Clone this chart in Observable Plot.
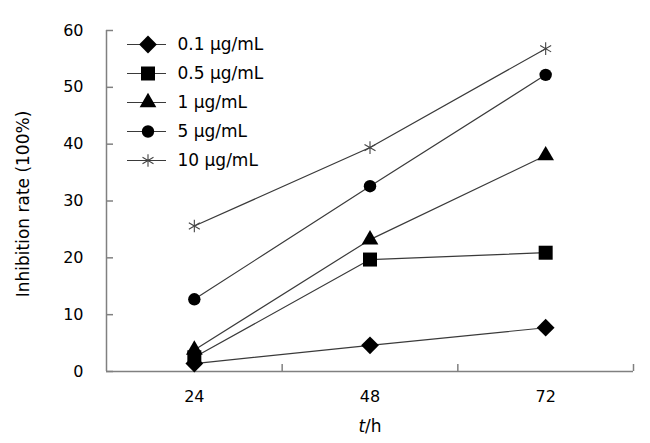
<!DOCTYPE html>
<html><head><meta charset="utf-8">
<script src="https://cdn.jsdelivr.net/npm/d3@7"></script>
<script src="https://cdn.jsdelivr.net/npm/@observablehq/plot@0.6"></script>
<style>
html,body{margin:0;padding:0;background:#fff;}
#chart{position:relative;width:650px;height:443px;overflow:hidden;}
#chart svg{position:absolute;left:0;top:0;}
#chart svg.legend{left:106px;top:30px;background:transparent;}
</style></head><body><div id="chart"></div>
<script>
const hours = [24, 48, 72];
const seriesNames = ["0.1 μg/mL", "0.5 μg/mL", "1 μg/mL", "5 μg/mL", "10 μg/mL"];
const seriesSymbols = ["diamond2", "square", "triangle", "circle", "asterisk"];
const rate01 = [1.4, 4.6, 7.7];
const rate05 = [2.5, 19.7, 20.9];
const rate1 = [3.8, 23.2, 38.0];
const rate5 = [12.7, 32.6, 52.2];
const rate10 = [25.6, 39.4, 56.8];
const yTicks = [0, 10, 20, 30, 40, 50, 60];
const xLabelTicks = [24, 48, 72];
const xBoundaryTicks = [36, 60, 84];
const xDomain = [12, 84];
const yDomain = [0, 60];
const yTitle = "Inhibition rate (100%)";
const xTitle = "t/h";

const rates = [rate01, rate05, rate1, rate5, rate10];
const symbolRadius = {diamond2: 8, square: 7.9, triangle: 6.2, circle: 6.2, asterisk: 6};
const data = seriesNames.flatMap((name, s) =>
  hours.map((h, i) => ({series: name, symbol: seriesSymbols[s], hour: h, rate: rates[s][i]})));

const font = "'DejaVu Sans', Verdana, sans-serif";
const axisColor = "#808080";
const lineColor = "#3a3a3a";

function symbolMarks(rows, xOpt, yOpt, extra = {}) {
  return seriesSymbols.map(sym => {
    const subset = rows.filter(d => d.symbol === sym);
    const isStroke = sym === "asterisk";
    return Plot.dot(subset, {
      ...xOpt, ...yOpt, ...extra,
      symbol: sym,
      r: symbolRadius[sym],
      fill: isStroke ? "none" : "black",
      stroke: isStroke ? "#444" : "none",
      strokeWidth: isStroke ? 1.1 : 0
    });
  });
}

const main = Plot.plot({
  width: 650, height: 443,
  marginLeft: 106, marginRight: 17, marginTop: 30, marginBottom: 72,
  style: {fontFamily: font, fontSize: "16px", color: "#000", background: "white", overflow: "visible"},
  x: {domain: xDomain},
  y: {domain: yDomain},
  marks: [
    Plot.ruleY([yDomain[0]], {stroke: axisColor, strokeWidth: 1.5}),
    Plot.ruleX([xDomain[0]], {stroke: axisColor, strokeWidth: 1.5}),
    Plot.axisY({ticks: yTicks, tickSize: -7, tickFormat: () => "", label: null, stroke: axisColor, strokeWidth: 1.5}),
    Plot.axisY({ticks: yTicks, tickSize: 0, tickPadding: 23, label: null, fill: "#000"}),
    Plot.axisX({ticks: xBoundaryTicks, tickSize: -7, tickFormat: () => "", label: null, stroke: axisColor, strokeWidth: 1.5}),
    Plot.axisX({ticks: xLabelTicks, tickSize: 0, tickPadding: 19, label: null, fill: "#000"}),
    Plot.line(data, {x: "hour", y: "rate", z: "series", stroke: lineColor, strokeWidth: 1.2}),
    ...symbolMarks(data, {x: "hour"}, {y: "rate"}),
    Plot.text([yTitle], {frameAnchor: "left", textAnchor: "middle", lineAnchor: "middle", rotate: -90, dx: -83, dy: 3, fontSize: 17, fill: "#000"}),
    Plot.text([xTitle], {frameAnchor: "bottom", textAnchor: "middle", lineAnchor: "middle", dy: 55, fontSize: 17, fill: "#000"})
  ]
});

d3.select(main).selectAll("text").filter(function() { return this.textContent === xTitle; })
  .each(function() {
    const t = d3.select(this);
    t.text(null);
    t.append("tspan").attr("font-style", "italic").text(xTitle.split("/")[0]);
    t.append("tspan").text("/" + xTitle.split("/")[1]);
  });

const legendRows = seriesNames.map((name, s) => ({series: name, symbol: seriesSymbols[s]}));
const legend = Plot.plot({
  width: 220, height: 150,
  margin: 0,
  style: {fontFamily: font, fontSize: "17px", color: "#000", background: "transparent", overflow: "visible"},
  y: {type: "point", domain: seriesNames, range: [13.3, 130.5], padding: 0, axis: null},
  marks: [
    Plot.ruleY(legendRows, {y: "series", insetLeft: 21, insetRight: 160, stroke: lineColor, strokeWidth: 1.2}),
    ...symbolMarks(legendRows, {}, {y: "series"}, {frameAnchor: "left", dx: 41.5}),
    Plot.text(legendRows, {y: "series", text: "series", frameAnchor: "left", dx: 71, textAnchor: "start", fill: "#000"})
  ]
});
legend.classList.add("legend");

const chart = document.getElementById("chart");
chart.appendChild(main);
chart.appendChild(legend);
</script>
</body></html>
